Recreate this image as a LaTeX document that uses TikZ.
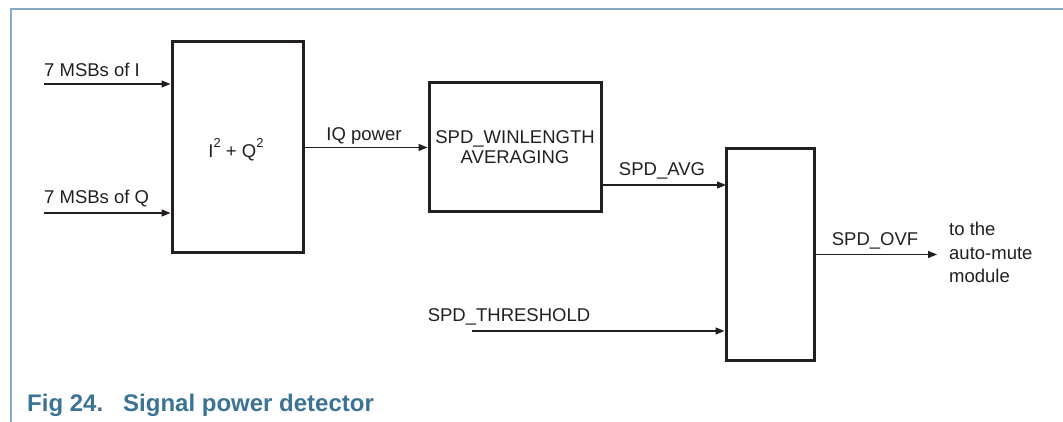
\documentclass[tikz,border=0pt]{standalone}
\usepackage{fontspec}
\setmainfont{Liberation Sans}
\usetikzlibrary{arrows.meta}
\definecolor{ink}{HTML}{231F20}
\definecolor{framec}{HTML}{86AAC1}
\definecolor{capc}{HTML}{3B7395}
\tikzset{
  blk/.style={draw=ink, line width=3pt, minimum width=#1, inner sep=0pt, align=center},
  arr/.style={draw=ink, line width=1.3pt, -{Triangle[length=9pt,width=7pt]}},
  lbl/.style={inner sep=0pt, text=ink, anchor=base},
  txt/.style={font=\fontsize{18.5}{20}\selectfont, text=ink}
}
\begin{document}
\begin{tikzpicture}[x=1pt,y=-1pt, every node/.style={txt}]
\useasboundingbox (0,0) rectangle (1063,422);
% frame
\draw[framec, line width=2pt] (11,422) -- (11,9) -- (1063,9);
% blocks
\node[blk=131pt, minimum height=211pt] (sq) at (237.5,147.5) {};
\node[blk=172pt, minimum height=129pt] (avg) at (515,147.5) {SPD\_WINLENGTH\\AVERAGING};
\node[blk=88pt, minimum height=211pt] (cmp) at (770,254.5) {};
\node[lbl] (sqt) at (236,158) {I\raisebox{0.55em}{\fontsize{13}{14}\selectfont 2} + Q\raisebox{0.55em}{\fontsize{13}{14}\selectfont 2}};
% free ends
\coordinate (inI) at (44,84);
\coordinate (inQ) at (44,213);
\coordinate (thr) at (472,331);
\coordinate (avgin) at (726,185);
\coordinate (out) at (937,254.5);
% connectors
\draw[arr] (inI) -- (inI -| sq.west);
\draw[arr] (inQ) -- (inQ -| sq.west);
\draw[arr] (avg.west -| sq.east) -- (avg.west);
\draw[arr] (avgin -| avg.east) -- (avgin);
\draw[arr] (thr) -- (thr -| cmp.west);
\draw[arr] (cmp.east) -- (out);
% labels
\node[lbl, anchor=base west] (lI) at (44,77) {7 MSBs of I};
\node[lbl, anchor=base west] (lQ) at (44,204) {7 MSBs of Q};
\node[lbl] (lIQ) at (364,141) {IQ power};
\node[lbl] (lavg) at (662,176) {SPD\_AVG};
\node[lbl] (lthr) at (509,321) {SPD\_THRESHOLD};
\node[lbl] (lovf) at (875,245) {SPD\_OVF};
\node[lbl, anchor=base west] (d1) at (949,236) {to the};
\node[lbl, anchor=base west] (d2) at (949,259) {auto-mute};
\node[lbl, anchor=base west] (d3) at (949,282) {module};
% caption
\node[inner sep=0pt, anchor=base west, text=capc, font=\fontsize{24}{26}\selectfont\bfseries] (cap) at (27,411) {Fig 24.};
\node[inner sep=0pt, anchor=base west, text=capc, font=\fontsize{24}{26}\selectfont\bfseries] (cap2) at (123,411) {Signal power detector};
\end{tikzpicture}
\end{document}
